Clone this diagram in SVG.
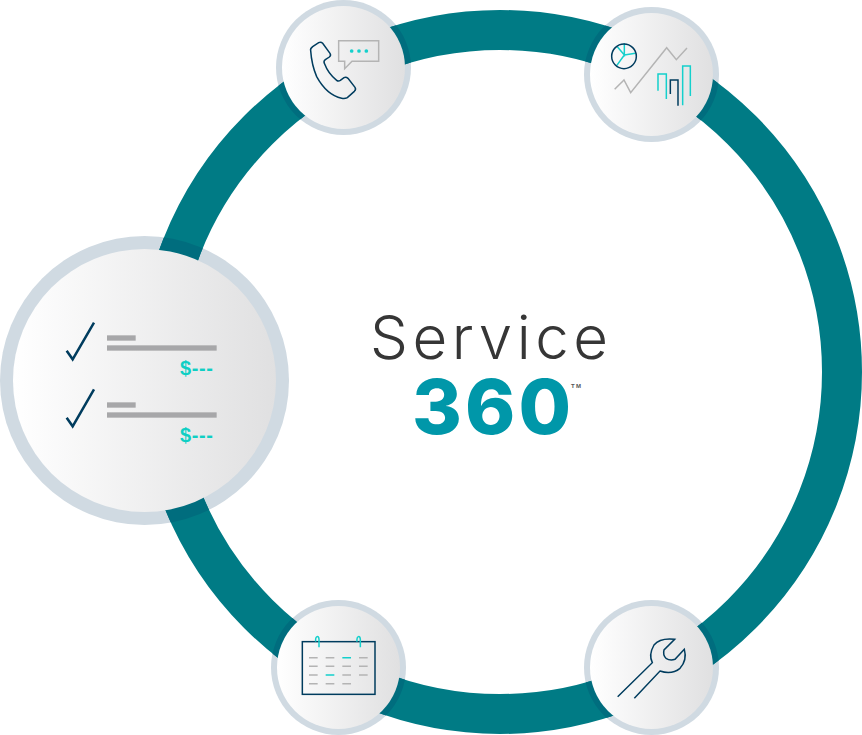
<svg xmlns="http://www.w3.org/2000/svg" width="862" height="735" viewBox="0 0 862 735">
<style>
.rim{fill:#d0dae2}
.face{fill:url(#face)}
.z{fill:none;stroke-linecap:butt;stroke-linejoin:miter}
.navy{stroke:#003c5e;stroke-width:4.5}
.teal{stroke:#14d0cc;stroke-width:4.5}
.gray{stroke:#b4b4b4;stroke-width:4.5}
.bar{fill:#a7a7a9}
.price{font-family:"Liberation Sans",sans-serif;font-weight:700;font-size:20px;fill:#0fcfc4}
</style>
<defs>
<linearGradient id="face" x1="0" y1="0" x2="1" y2="0"><stop offset="0" stop-color="#ffffff"/><stop offset="1" stop-color="#e0e0e1"/></linearGradient>
<clipPath id="rims">
<circle cx="343.5" cy="67.5" r="67.5"/><circle cx="651.5" cy="74.5" r="67.5"/><circle cx="144.5" cy="380.5" r="144.5"/><circle cx="338.5" cy="667.5" r="67.5"/><circle cx="651.5" cy="667.5" r="67.5"/>
</clipPath>
</defs>
<g id="rims-under">
<circle class="rim" cx="343.5" cy="67.5" r="67.5"/><circle class="rim" cx="651.5" cy="74.5" r="67.5"/><circle class="rim" cx="144.5" cy="380.5" r="144.5"/><circle class="rim" cx="338.5" cy="667.5" r="67.5"/><circle class="rim" cx="651.5" cy="667.5" r="67.5"/>
</g>
<g id="connectors" fill="none" stroke-width="40">
<circle cx="500" cy="372" r="342" stroke="#007b85"/>
<circle cx="500" cy="372" r="342" stroke="#006d7e" clip-path="url(#rims)"/>
</g>
<g id="title">
<text x="370" y="359" textLength="238" lengthAdjust="spacing" font-family="Inter,'Liberation Sans',sans-serif" font-weight="300" font-size="60" fill="#363636">Service</text>
<text x="412" y="434" textLength="159" lengthAdjust="spacing" font-family="Inter,'Liberation Sans',sans-serif" font-weight="800" font-size="76" fill="#0097a9">360</text>
<text x="571" y="388" textLength="10" font-family="'Liberation Sans',sans-serif" font-weight="700" font-size="6" fill="#555">TM</text>
</g>
<g id="node-phone">
<circle class="face" cx="343.5" cy="67.5" r="61.5"/>
<g transform="translate(270 0) scale(.33333)" class="z">
<path class="navy" d="M122,152 Q120,146 128,140 L146,128 Q153,125 158,130 L180,160 Q184,166 178,171 L166,179 Q160,183 163,190 Q175,222 200,241 Q205,245 211,241 L222,233 Q228,230 234,235 L255,262 Q259,268 253,274 L232,293 Q225,297 215,295 Q170,285 140,230 Q125,195 122,152 Z"/>
<path class="gray" d="M206,122 H326 V184 H246 L224,206 V184 H206 Z"/>
<circle cx="245" cy="153" r="5.5" fill="#14d0cc"/><circle cx="267" cy="153" r="5.5" fill="#14d0cc"/><circle cx="289" cy="153" r="5.5" fill="#14d0cc"/>
</g>
</g>
<g id="node-chart">
<circle class="face" cx="651.5" cy="74.5" r="61.5"/>
<g transform="translate(580 0) scale(.33333)" class="z">
<path class="teal" d="M133,130 V165 L112,140 M133,165 L166,160 M133,165 L110,197"/>
<circle class="navy" cx="132" cy="169" r="37"/>
<path class="gray" d="M104,268 L132,240 L152,278 L260,143 L289,179 L321,144"/>
<path class="teal" d="M234,272 V222 H259 V297 M308,316 V198 H331 V288"/>
<path class="navy" d="M271,282 V240 H294 V317"/>
</g>
</g>
<g id="node-invoice">
<circle class="face" cx="144.5" cy="380.5" r="131.5"/>
<g transform="translate(40 300) scale(.33333)" class="z">
<path class="navy" style="stroke-width:7.5" d="M80,152 L98,178 L162,68"/>
<path class="navy" style="stroke-width:7.5" d="M80,353 L98,379 L162,268"/>
<rect class="bar" x="201" y="106" width="86" height="16"/><rect class="bar" x="201" y="136" width="329" height="16"/>
<rect class="bar" x="201" y="307" width="86" height="16"/><rect class="bar" x="201" y="337" width="329" height="16"/>
</g>
<text class="price" x="180" y="375" textLength="33">$---</text>
<text class="price" x="180" y="442" textLength="33">$---</text>
</g>
<g id="node-calendar">
<circle class="face" cx="338.5" cy="667.5" r="61.5"/>
<g transform="translate(270 600) scale(.33333)" class="z">
<rect class="navy" x="97" y="125" width="218" height="158"/>
<path class="teal" d="M147,142 V118 Q146,108 141,110 Q136,112 137,125 M271,142 V118 Q270,108 265,110 Q260,112 261,125"/>
<path class="gray" d="M117,173 H143 M167,173 H193 M267,173 H293 M117,199 H143 M167,199 H193 M217,199 H243 M267,199 H293 M117,225 H143 M217,225 H243 M267,225 H293 M117,251 H143 M167,251 H193 M217,251 H243"/>
<path class="teal" d="M217,173 H243 M167,225 H193"/>
</g>
</g>
<g id="node-wrench">
<circle class="face" cx="651.5" cy="667.5" r="61.5"/>
<g transform="translate(580 595) scale(.33333)" class="z">
<path class="navy" d="M113,305 L217,203 Q205,180 222,150 Q240,128 284,133 L252,165 Q248,180 258,190 Q270,198 285,193 L313,163 Q322,195 300,220 Q275,240 240,228 L163,310"/>
</g>
</g>
</svg>
